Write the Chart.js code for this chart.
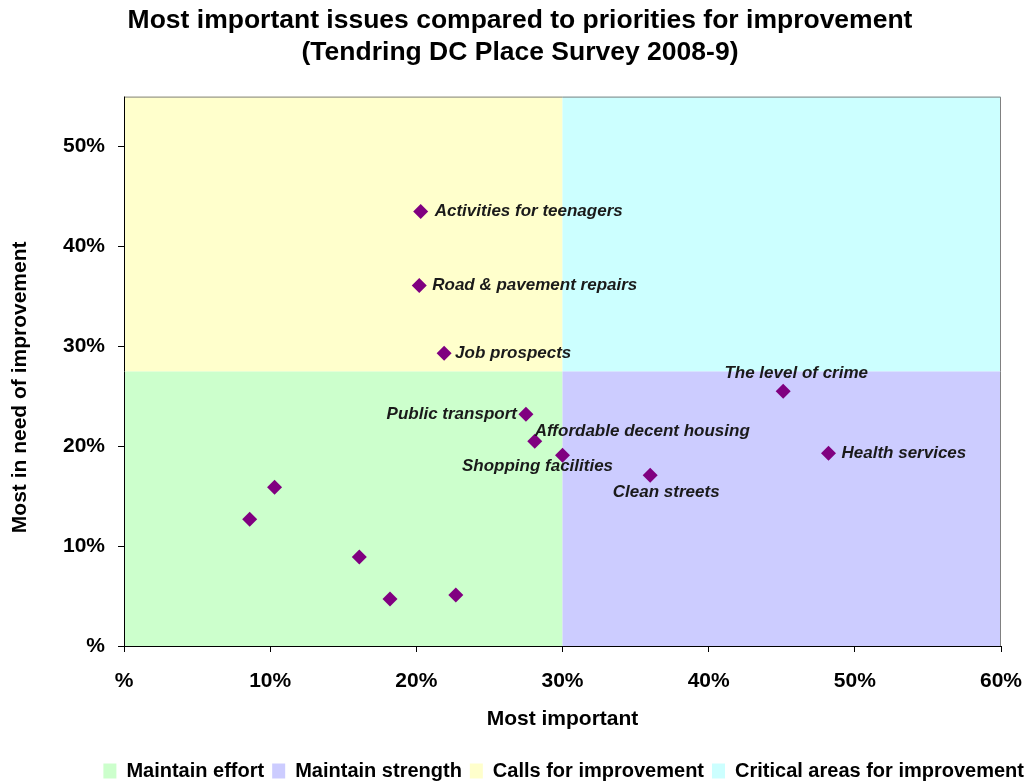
<!DOCTYPE html>
<html><head><meta charset="utf-8">
<script src="https://cdn.jsdelivr.net/npm/chart.js@4.4.1/dist/chart.umd.min.js"></script>
<style>html,body{margin:0;padding:0;background:#fff}#wrap{width:1032px;height:784px}</style>
</head><body><div id="wrap"><canvas id="c" width="1032" height="784"></canvas></div>
<script>
// ---- data ----
const labels = ["Activities for teenagers","Road & pavement repairs","Job prospects","Public transport","Affordable decent housing","Shopping facilities","Clean streets","The level of crime","Health services","","","","",""];
const mostImportant = [20.3,20.2,21.9,27.5,28.1,30.0,36.0,45.1,48.2,10.3,8.6,16.1,18.2,22.7];
const needImprovement = [43.5,36.1,29.3,23.2,20.5,19.1,17.1,25.5,19.3,15.9,12.7,8.9,4.7,5.1];
const xTicks = [0,10,20,30,40,50,60];
const yTicks = [0,10,20,30,40,50];
const xSplit = 30;      // boundary on "Most important"
const ySplit = 27.5;    // boundary on "Most in need of improvement"
const quadrantNames = ["Maintain effort","Maintain strength","Calls for improvement","Critical areas for improvement"];
const quadrantColors = ["#CCFFCC","#CCCCFF","#FFFFCC","#CCFFFF"];
const yTitle = "Most in need of improvement";
// label placement (style): [dx, dy, align]
const labelPlace = [[14,0,'left'],[13,0,'left'],[11,0,'left'],[-9,0,'right'],[0,-10,'left'],[-25,11,'center'],[16,17,'center'],[13,-18,'center'],[13,0,'left'],[0,0,'left'],[0,0,'left'],[0,0,'left'],[0,0,'left'],[0,0,'left']];

const FONT = "'Liberation Sans', Arial, sans-serif";
const points = mostImportant.map((x,i)=>({x:x,y:needImprovement[i]}));

const quadPlugin = {
  id:'quads',
  afterLayout(chart){
    if (chart.legend) { chart.legend.top += 7; chart.legend.bottom += 7; }
  },
  beforeDatasetsDraw(chart){
    const {ctx, scales:{x,y}, chartArea:a} = chart;
    const xs = x.getPixelForValue(xSplit), ys = y.getPixelForValue(ySplit);
    ctx.save();
    ctx.fillStyle = quadrantColors[0]; ctx.fillRect(a.left, ys, xs-a.left, a.bottom-ys);
    ctx.fillStyle = quadrantColors[1]; ctx.fillRect(xs, ys, a.right-xs, a.bottom-ys);
    ctx.fillStyle = quadrantColors[2]; ctx.fillRect(a.left, a.top, xs-a.left, ys-a.top);
    ctx.fillStyle = quadrantColors[3]; ctx.fillRect(xs, a.top, a.right-xs, ys-a.top);
    ctx.strokeStyle = '#808080'; ctx.lineWidth = 1;
    ctx.beginPath(); ctx.moveTo(a.left, a.top+0.5); ctx.lineTo(a.right-0.5, a.top+0.5); ctx.lineTo(a.right-0.5, a.bottom); ctx.stroke();
    ctx.strokeStyle = '#000';
    ctx.beginPath(); ctx.moveTo(a.left+0.5, a.top); ctx.lineTo(a.left+0.5, a.bottom+0.5); ctx.lineTo(a.right, a.bottom+0.5); ctx.stroke();
    // y-axis title
    ctx.save();
    ctx.translate(20, (a.top+a.bottom)/2 + 16);
    ctx.rotate(-Math.PI/2);
    ctx.font = "bold 21px " + FONT; ctx.fillStyle = '#000';
    ctx.textAlign = 'center'; ctx.textBaseline = 'middle';
    ctx.fillText(yTitle, 0, 0);
    ctx.restore();
    ctx.restore();
  },
  afterDatasetsDraw(chart){
    const {ctx, scales:{x,y}} = chart;
    ctx.save();
    ctx.font = "italic bold 17px " + FONT;
    ctx.fillStyle = '#1a1a1a';
    ctx.textBaseline = 'middle';
    labels.forEach((t,i)=>{
      if(!t) return;
      const p = labelPlace[i];
      ctx.textAlign = p[2];
      ctx.fillText(t, x.getPixelForValue(mostImportant[i])+p[0], y.getPixelForValue(needImprovement[i])+p[1]);
    });
    ctx.restore();
  }
};

new Chart(document.getElementById('c'), {
  type:'scatter',
  data:{datasets:[{data:points, pointStyle:'rectRot', pointRadius:7.5, pointHoverRadius:7.5,
    backgroundColor:'#800080', borderColor:'#800080', borderWidth:0}]},
  options:{
    responsive:false, animation:false, devicePixelRatio:1,
    layout:{padding:{left:8,right:0,top:0,bottom:0}},
    plugins:{
      tooltip:{enabled:false},
      title:{display:true, text:["Most important issues compared to priorities for improvement","(Tendring DC Place Survey 2008-9)"],
        color:'#000', font:{family:FONT, size:26.5, weight:'bold', lineHeight:1.2}, padding:{top:5,bottom:28}},
      legend:{display:true, position:'bottom', align:'end',
        labels:{color:'#000', font:{family:FONT,size:20,weight:'bold'}, boxWidth:13, boxHeight:15, padding:8,
          generateLabels(){ return quadrantNames.map((n,i)=>({text:n, fillStyle:quadrantColors[i], strokeStyle:quadrantColors[i], lineWidth:0, hidden:false, index:i})); }},
        onClick(){}}
    },
    scales:{
      x:{type:'linear', min:0, max:60,
        afterBuildTicks(s){ s.ticks = xTicks.map(v=>({value:v})); },
        afterFit(s){ s.height = 100; s.paddingRight = 31; },
        ticks:{color:'#000', font:{family:FONT,size:21,weight:'bold'}, padding:17, maxRotation:0, callback:v=> v===0?'%':v+'%'},
        grid:{display:true, drawOnChartArea:false, drawTicks:true, tickLength:6, color:'#000'},
        border:{display:false},
        title:{display:true, text:'Most important', color:'#000', font:{family:FONT,size:21,weight:'bold'}, padding:{top:0,bottom:14}}},
      y:{type:'linear', min:0, max:55,
        afterBuildTicks(s){ s.ticks = yTicks.map(v=>({value:v})); },
        afterFit(s){ s.width = 116; },
        ticks:{color:'#000', font:{family:FONT,size:21,weight:'bold'}, padding:13, callback:v=> v===0?'%':v+'%'},
        grid:{display:true, drawOnChartArea:false, drawTicks:true, tickLength:6, color:'#000'},
        border:{display:false},
        title:{display:false}}
    }
  },
  plugins:[quadPlugin]
});
</script></body></html>
